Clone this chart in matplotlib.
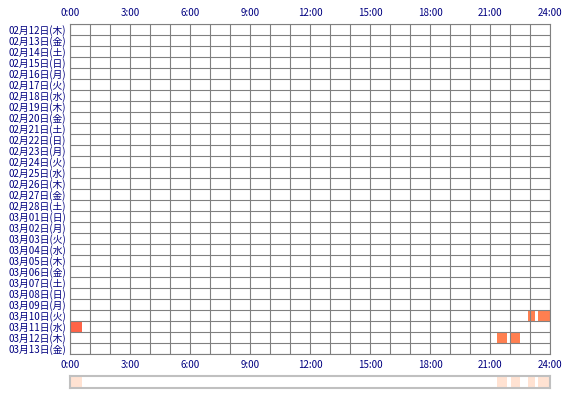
import matplotlib
matplotlib.use("Agg")
import matplotlib.pyplot as plt

plt.rcParams["font.family"] = ["Noto Sans CJK JP", "DejaVu Sans"]

# ── Data ──────────────────────────────────────────────────────────────────────

days = [
    "02月12日(木)", "02月13日(金)", "02月14日(土)", "02月15日(日)", "02月16日(月)",
    "02月17日(火)", "02月18日(水)", "02月19日(木)", "02月20日(金)", "02月21日(土)",
    "02月22日(日)", "02月23日(月)", "02月24日(火)", "02月25日(水)", "02月26日(木)",
    "02月27日(金)", "02月28日(土)", "03月01日(日)", "03月02日(月)", "03月03日(火)",
    "03月04日(水)", "03月05日(木)", "03月06日(金)", "03月07日(土)", "03月08日(日)",
    "03月09日(月)", "03月10日(火)", "03月11日(水)", "03月12日(木)", "03月13日(金)",
]

# active periods (hours of day)
event_days = ["03月10日(火)", "03月10日(火)", "03月11日(水)", "03月12日(木)", "03月12日(木)"]
event_start = [22.88, 23.42, 0.0, 21.37, 22.05]
event_end = [23.25, 24.0, 0.6, 21.83, 22.5]

hour_ticks = [0, 3, 6, 9, 12, 15, 18, 21, 24]
hour_labels = ["0:00", "3:00", "6:00", "9:00", "12:00", "15:00", "18:00", "21:00", "24:00"]

# ── Style ─────────────────────────────────────────────────────────────────────

NAVY = "#000080"
GRID = "#808080"
DAY_COLOURS = {"03月11日(水)": "#ff6347"}
DEFAULT_COLOUR = "#ff7f50"
SUMMARY_COLOUR = "#ffe2d2"

fig = plt.figure(figsize=(5.7, 4.0), dpi=100)
ax = fig.add_axes([70 / 570, 1 - 354 / 400, 480 / 570, 330 / 400])

rows = [days.index(d) for d in event_days]
widths = [e - s for s, e in zip(event_start, event_end)]
colours = [DAY_COLOURS.get(d, DEFAULT_COLOUR) for d in event_days]
ax.barh(rows, widths, left=event_start, height=1.0, color=colours,
        align="center", zorder=1)

ax.set_xlim(0, 24)
ax.set_ylim(len(days) - 0.5, -0.5)

ax.set_xticks(hour_ticks)
ax.set_xticklabels(hour_labels)
ax.set_yticks(range(len(days)))
ax.set_yticklabels(days)

ax.tick_params(which="both", length=0, colors=NAVY, labelsize=7,
               labeltop=True, labelbottom=True)
ax.tick_params(axis="x", pad=4)
ax.tick_params(axis="y", pad=3)

ax.grid(False)
for h in range(25):
    ax.axvline(h, color=GRID, linewidth=0.8, zorder=2)
for i in range(len(days) + 1):
    ax.axhline(i - 0.5, color=GRID, linewidth=0.8, zorder=2)
for s in ax.spines.values():
    s.set_color(GRID)
    s.set_linewidth(0.8)
    s.set_zorder(3)

# ── Summary strip ─────────────────────────────────────────────────────────────

ax2 = fig.add_axes([70 / 570, 1 - 388 / 400, 480 / 570, 12 / 400])
ax2.barh([0] * len(event_start), widths, left=event_start, height=1.0,
         color=SUMMARY_COLOUR)
ax2.set_xlim(0, 24)
ax2.set_ylim(-0.5, 0.5)
ax2.set_xticks([])
ax2.set_yticks([])
for s in ax2.spines.values():
    s.set_color("#c0c0c0")
    s.set_linewidth(1.5)

fig.savefig("out.png", dpi=100)
